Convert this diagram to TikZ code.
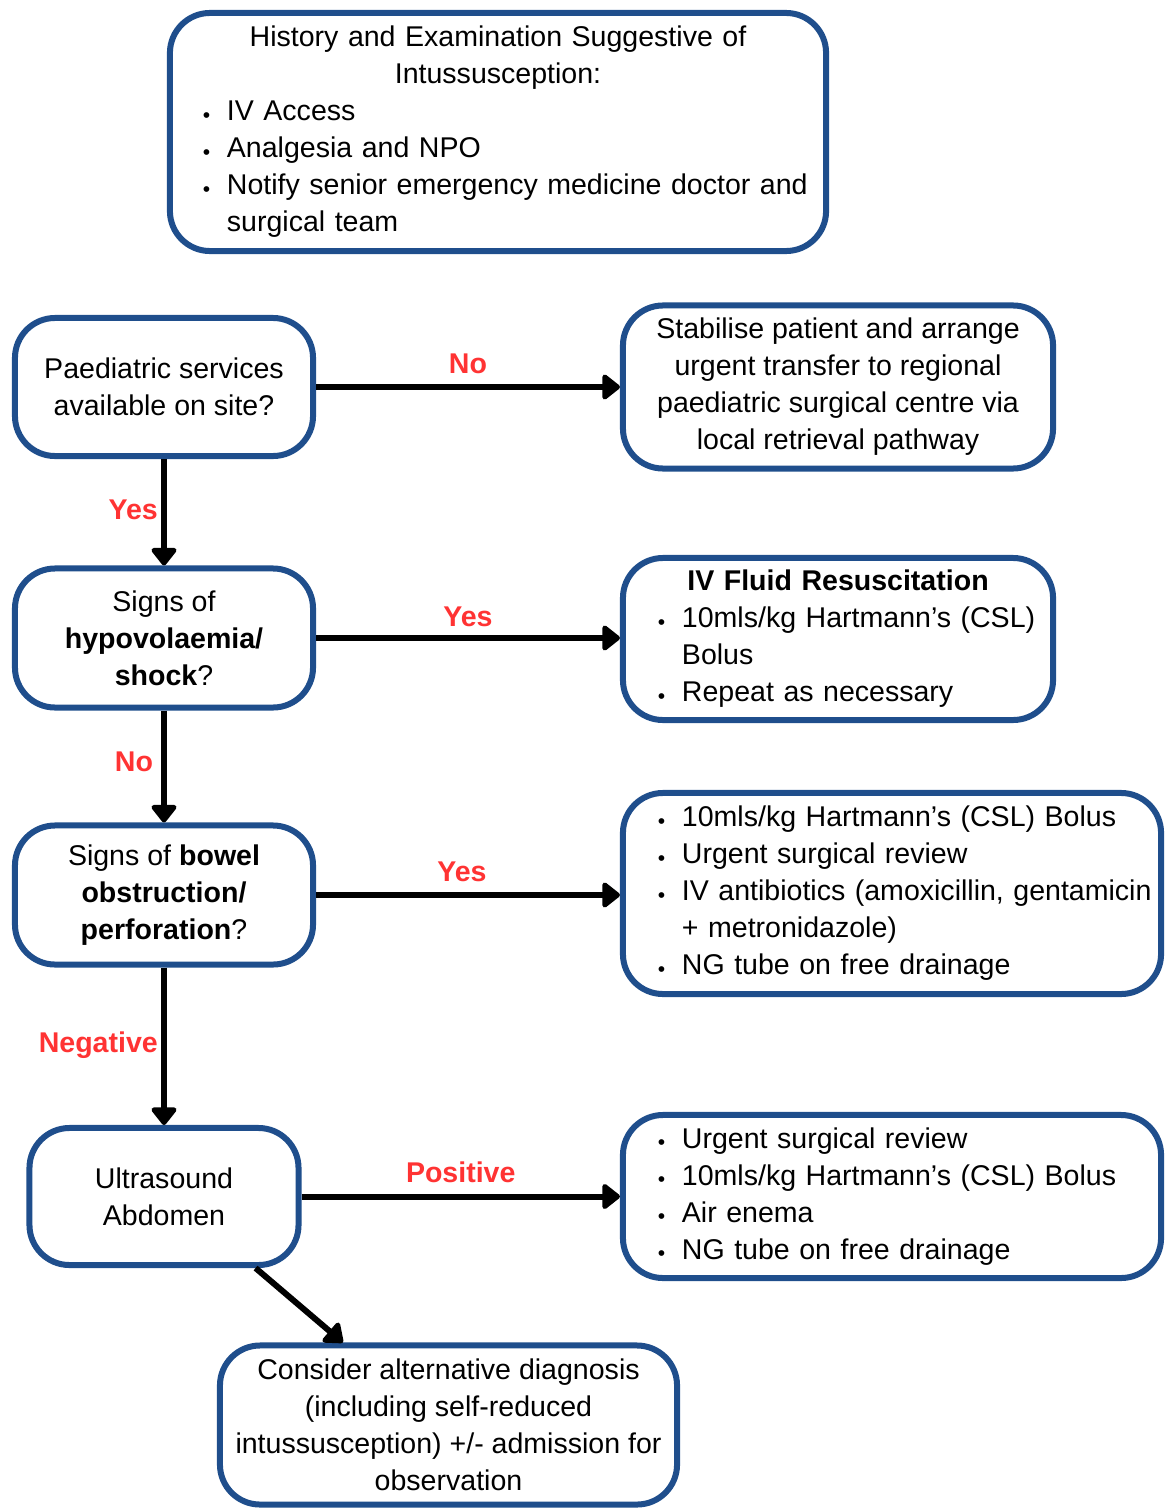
\documentclass[tikz,border=0pt]{standalone}
\usepackage{fontspec}
\setmainfont{Liberation Sans}
\usetikzlibrary{arrows.meta}
\definecolor{boxblue}{RGB}{31,78,140}
\definecolor{labred}{RGB}{255,51,51}
\newcommand\bul{\raisebox{-0.05em}{\fontsize{15}{15}\selectfont\textbullet}}
\newcommand\itm[1]{\makebox[0.6cm][l]{\bul}\mbox{#1}}
\newcommand\cnt[1]{\hspace*{0.6cm}\mbox{#1}}
\begin{document}
\begin{tikzpicture}[x=0.025cm, y=-0.025cm,
    box/.style={draw=boxblue, line width=0.15cm, rounded corners=1cm, fill=white,
                inner sep=0pt, font=\fontsize{20.3}{26.3}\selectfont},
    arr/.style={line width=0.15cm, -{Triangle[length=4.8mm,width=7.2mm,round]}},
    lab/.style={text=labred, inner sep=0pt, font=\fontsize{20.3}{24}\selectfont\bfseries}]
    \useasboundingbox (0,0) rectangle (1167,1510);

    % Opening box
    \node[box, minimum width=16.4cm, minimum height=5.95cm, text width=14.75cm, align=left]
        (hist) at (498,132)
        {\makebox[\linewidth]{History and Examination Suggestive of}\\
         \makebox[\linewidth]{Intussusception:}\\
         \itm{IV Access}\\
         \itm{Analgesia and NPO}\\
         \itm{Notify senior emergency medicine doctor and}\\
         \cnt{surgical team}};

    % Decisions down the left
    \node[box, minimum width=7.45cm, minimum height=3.45cm, align=center] (paed) at (164,387)
        {Paediatric services\\available on site?};
    \node[box, minimum width=7.45cm, minimum height=3.475cm, align=center] (hypo) at (164,638)
        {Signs of\\\textbf{hypovolaemia/}\\\textbf{shock}?};
    \node[box, minimum width=7.45cm, minimum height=3.475cm, align=center] (bowel) at (164,895)
        {Signs of \textbf{bowel}\\\textbf{obstruction/}\\\textbf{perforation}?};
    \node[box, minimum width=6.725cm, minimum height=3.425cm, align=center] (us) at (164,1196.5)
        {Ultrasound\\Abdomen};
    \node[box, minimum width=11.425cm, minimum height=3.975cm, align=center] (alt) at (448.5,1425)
        {Consider alternative diagnosis\\(including self-reduced\\intussusception) +/- admission for\\observation};

    % Actions on the right
    \node[box, minimum width=10.75cm, minimum height=4.075cm, align=center] (stab) at (838,387)
        {Stabilise patient and arrange\\urgent transfer to regional\\paediatric surgical centre via\\local retrieval pathway};
    \node[box, minimum width=10.75cm, minimum height=4.05cm, text width=9cm, align=left]
        (fluid) at (838,639)
        {\makebox[\linewidth]{\textbf{IV Fluid Resuscitation}}\\
         \itm{10mls/kg Hartmann’s (CSL)}\\
         \cnt{Bolus}\\
         \itm{Repeat as necessary}};
    \node[box, minimum width=13.45cm, minimum height=5.025cm, text width=11.7cm, align=left]
        (obstr) at (892,893.5)
        {\itm{10mls/kg Hartmann’s (CSL) Bolus}\\
         \itm{Urgent surgical review}\\
         \itm{IV antibiotics (amoxicillin, gentamicin}\\
         \cnt{+ metronidazole)}\\
         \itm{NG tube on free drainage}};
    \node[box, minimum width=13.45cm, minimum height=4.075cm, text width=11.7cm, align=left]
        (pos) at (892,1196.5)
        {\itm{Urgent surgical review}\\
         \itm{10mls/kg Hartmann’s (CSL) Bolus}\\
         \itm{Air enema}\\
         \itm{NG tube on free drainage}};

    % Connectors
    \draw[arr] (paed.east) -- (paed.east -| stab.west)
        node[lab, midway, anchor=base, yshift=0.33cm] {No};
    \draw[arr] (hypo.east) -- (hypo.east -| fluid.west)
        node[lab, midway, anchor=base, yshift=0.3cm] {Yes};
    \draw[arr] (bowel.east) -- (bowel.east -| obstr.west)
        node[lab, midway, anchor=base, xshift=-0.15cm, yshift=0.35cm] {Yes};
    \draw[arr] (us.east) -- (us.east -| pos.west)
        node[lab, midway, anchor=base, yshift=0.35cm] {Positive};
    \draw[arr] (paed.south) -- (hypo.north)
        node[lab, midway, anchor=base east, xshift=-0.08cm, yshift=-0.18cm] {Yes};
    \draw[arr] (hypo.south) -- (bowel.north)
        node[lab, midway, anchor=base east, xshift=-0.2cm, yshift=-0.12cm] {No};
    \draw[arr] (bowel.south) -- (us.north)
        node[lab, midway, anchor=base east, xshift=-0.08cm, yshift=-0.16cm] {Negative};
    \draw[arr] (us.-38) -- (alt.142);
\end{tikzpicture}
\end{document}
